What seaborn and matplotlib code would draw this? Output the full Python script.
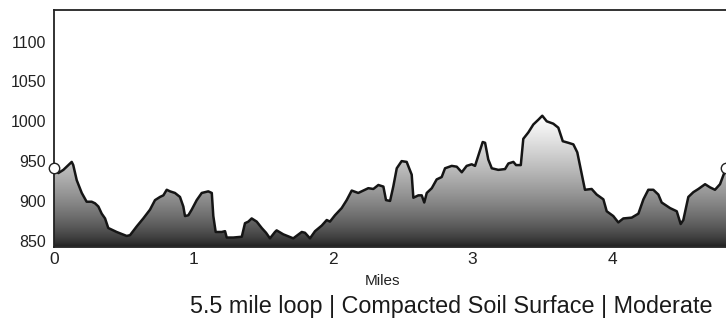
import numpy as np
import pandas as pd
import matplotlib
matplotlib.use("Agg")
import matplotlib.pyplot as plt
import seaborn as sns

# trail profile (miles, elevation in feet)
miles = [0.000, 0.031, 0.067, 0.103, 0.127, 0.138, 0.163, 0.199, 0.234, 0.270,
         0.294, 0.318, 0.342, 0.366, 0.389, 0.449, 0.521, 0.545, 0.593, 0.640,
         0.688, 0.724, 0.760, 0.784, 0.808, 0.832, 0.867, 0.903, 0.927, 0.939,
         0.963, 0.987, 1.023, 1.059, 1.106, 1.131, 1.142, 1.159, 1.202, 1.226,
         1.238, 1.285, 1.346, 1.369, 1.393, 1.417, 1.453, 1.489, 1.520, 1.548,
         1.584, 1.596, 1.644, 1.715, 1.776, 1.799, 1.835, 1.871, 1.919, 1.955,
         1.978, 2.014, 2.062, 2.098, 2.134, 2.181, 2.217, 2.253, 2.289, 2.325,
         2.361, 2.380, 2.409, 2.432, 2.457, 2.492, 2.528, 2.564, 2.576, 2.612,
         2.636, 2.654, 2.672, 2.708, 2.743, 2.779, 2.803, 2.851, 2.887, 2.923,
         2.958, 2.994, 3.018, 3.049, 3.073, 3.090, 3.113, 3.138, 3.185, 3.233,
         3.257, 3.293, 3.312, 3.346, 3.364, 3.400, 3.436, 3.472, 3.500, 3.532,
         3.579, 3.615, 3.647, 3.687, 3.723, 3.751, 3.771, 3.806, 3.854, 3.890,
         3.938, 3.962, 4.009, 4.045, 4.081, 4.141, 4.189, 4.225, 4.260, 4.296,
         4.332, 4.356, 4.416, 4.464, 4.492, 4.511, 4.547, 4.583, 4.619, 4.667,
         4.703, 4.738, 4.774, 4.817]
elevation = [941, 935, 939, 945, 949, 945, 926, 910, 899, 899,
             897, 893, 884, 878, 866, 861, 856, 857, 868, 878,
             889, 901, 905, 907, 914, 912, 910, 905, 893, 881,
             882, 889, 901, 910, 912, 910, 881, 861, 861, 862,
             854, 854, 855, 872, 874, 878, 874, 866, 860, 853,
             861, 863, 858, 853, 861, 860, 853, 862, 869, 876,
             874, 882, 891, 901, 913, 910, 913, 916, 915, 920,
             918, 901, 900, 918, 941, 950, 949, 933, 904, 907,
             907, 898, 910, 916, 927, 930, 941, 944, 943, 936,
             944, 946, 944, 961, 974, 973, 952, 941, 939, 940,
             947, 949, 945, 945, 978, 986, 996, 1002, 1007, 1000,
             997, 992, 975, 973, 971, 961, 944, 914, 915, 908,
             902, 887, 881, 873, 878, 879, 884, 902, 914, 914,
             908, 898, 891, 887, 871, 876, 905, 911, 915, 921,
             917, 914, 921, 941]

y_ticks = [850, 900, 950, 1000, 1050, 1100]
x_ticks = [0, 1, 2, 3, 4]
x_label = "Miles"
caption = "5.5 mile loop | Compacted Soil Surface | Moderate"

df = pd.DataFrame({"miles": miles, "elevation": elevation})

sns.set_style("white")
plt.rcParams['font.family'] = ['Liberation Sans', 'DejaVu Sans']
narrow = ['Liberation Sans Narrow', 'Liberation Sans', 'DejaVu Sans']

W, H = 726, 319
fig = plt.figure(figsize=(W / 100, H / 100), dpi=100)
ax = fig.add_axes([54 / W, 1 - 246.7 / H, 1 - 54 / W, (246.7 - 10) / H])

x_max = miles[-1]
y_min, y_max = 842.5, 1139.8

# gradient fill clipped to the area under the profile
area = ax.fill_between(df["miles"], df["elevation"], y_min, color="none", lw=0)
t = np.linspace(0, 1, 256).reshape(-1, 1)
shade = 28 / 255 + (1 - 28 / 255) * t ** 0.7
img = ax.imshow(shade, extent=[0, x_max, y_min, max(elevation)], origin="lower",
                aspect="auto", cmap="gray", vmin=0, vmax=1, zorder=1)
img.set_clip_path(area.get_paths()[0], transform=ax.transData)

sns.lineplot(data=df, x="miles", y="elevation", color="#151515", lw=1.8,
             ax=ax, zorder=3)
ends = df.iloc[[0, -1]]
ax.plot(ends["miles"], ends["elevation"], "o", mfc="white", mec="#222222",
        mew=1.0, ms=7.5, clip_on=False, zorder=5)

ax.set_xlim(0, x_max)
ax.set_ylim(y_min, y_max)
ax.set_xticks(x_ticks)
ax.set_yticks(y_ticks)
ax.set_xlabel("")
ax.set_ylabel("")
ax.tick_params(axis="y", length=0, pad=5.5, labelsize=11.5, colors="#222222")
ax.tick_params(axis="x", length=0, pad=4, labelsize=12.5, colors="#222222")
for lab in ax.get_xticklabels() + ax.get_yticklabels():
    lab.set_family(narrow)

ax.spines["right"].set_visible(False)
for s in ["top", "left", "bottom"]:
    ax.spines[s].set_color("#222222")
    ax.spines[s].set_linewidth(1.3)
ax.set_facecolor("white")

fig.text(382 / W, 1 - 281 / H, x_label, ha="center", va="center",
         fontsize=11, family=narrow, color="#222222")
fig.text(190 / W, 1 - 306 / H, caption, ha="left", va="center",
         fontsize=16.8, color="#1a1a1a")

fig.savefig("out.png", dpi=100)
